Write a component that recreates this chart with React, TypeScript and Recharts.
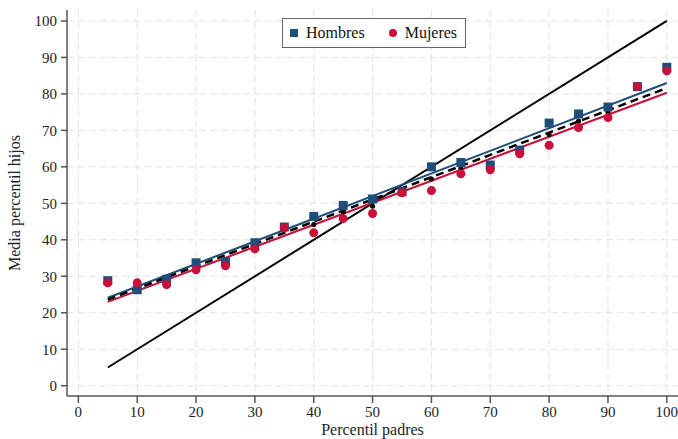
import React from 'react';
import { ComposedChart, XAxis, YAxis, CartesianGrid, Scatter, Line } from 'recharts';

const percentiles = [5, 10, 15, 20, 25, 30, 35, 40, 45, 50, 55, 60, 65, 70, 75, 80, 85, 90, 95, 100];
const hombres = [28.8, 26.3, 29.2, 33.7, 34.0, 39.2, 43.5, 46.4, 49.4, 51.2, 53.2, 60.0, 61.2, 60.5, 64.6, 72.0, 74.5, 76.4, 82.0, 87.3];
const mujeres = [28.2, 28.2, 27.7, 31.8, 32.9, 37.5, 43.3, 41.9, 45.8, 47.2, 52.9, 53.5, 58.1, 59.2, 63.6, 65.9, 70.8, 73.5, 82.0, 86.3];
const pooled = [28.5, 27.2, 28.5, 32.7, 33.4, 38.3, 43.4, 44.2, 47.6, 49.2, 53.0, 56.7, 59.6, 59.8, 64.1, 68.9, 72.6, 75.0, 82.0, 86.8];

const fitX = [5, 100];
const fitHombres = [24.1, 83.0];
const fitMujeres = [23.0, 80.3];
const fitPooled = [23.6, 81.6];
const diagonal = [5, 100];

const ticks = [0, 10, 20, 30, 40, 50, 60, 70, 80, 90, 100];

const BLUE = '#1f4e79';
const RED = '#c8103a';
const FONT = 'Liberation Serif';

const pts = (ys: number[]) => percentiles.map((x, i) => ({ x, y: ys[i] }));
const seg = (ys: number[]) => fitX.map((x, i) => ({ x, y: ys[i] }));

const Square = (p: any) => <rect x={p.cx - 4.5} y={p.cy - 4.5} width={9} height={9} fill={BLUE} />;
const Dot = (p: any) => <circle cx={p.cx} cy={p.cy} r={4.5} fill={RED} />;
const Small = (p: any) => <circle cx={p.cx} cy={p.cy} r={2.5} fill="#000" />;

const LegendBox = () => (
  <div style={{ position: 'absolute', left: 282, top: 18, border: '1px solid #666', background: '#fff', width: 184, height: 30, boxSizing: 'border-box', display: 'flex', alignItems: 'center', fontFamily: FONT, fontSize: 16, color: '#111' }}>
    <span style={{ display: 'inline-block', width: 8, height: 8, background: BLUE, marginLeft: 7, marginRight: 8 }} />
    <span>Hombres</span>
    <span style={{ display: 'inline-block', width: 8, height: 8, borderRadius: 4, background: RED, marginLeft: 24, marginRight: 8 }} />
    <span>Mujeres</span>
  </div>
);

export default function App() {
  return (
    <div style={{ position: 'absolute', left: 0, top: 0, width: 678, height: 439, background: '#fff' }}>
      <ComposedChart width={678} height={439} margin={{ top: 10, right: 0, left: 0, bottom: 0 }}>
        <CartesianGrid stroke="#e2e2e2" strokeDasharray="7 4" horizontalValues={ticks} verticalValues={ticks} />
        <XAxis type="number" dataKey="x" domain={[-1.93, 101.9]} ticks={ticks} interval={0} allowDataOverflow
          height={43} tickSize={7} tickMargin={3} stroke="#555" strokeWidth={1.5}
          tick={{ fontFamily: FONT, fontSize: 15, fill: '#222' }}
          label={{ value: 'Percentil padres', position: 'insideBottom', offset: 4, style: { fontFamily: FONT, fontSize: 16, fill: '#222' } }} />
        <YAxis type="number" dataKey="y" domain={[-2.82, 103.0]} ticks={ticks} interval={0} allowDataOverflow
          width={67} tickSize={6} tickMargin={4} stroke="#555" strokeWidth={1.5}
          tick={{ fontFamily: FONT, fontSize: 15, fill: '#222' }}
          label={{ value: 'Media percentil hijos', angle: -90, position: 'insideLeft', offset: 14, style: { fontFamily: FONT, fontSize: 16, fill: '#222', textAnchor: 'middle' } }} />
        <Line data={diagonal.map((v) => ({ x: v, y: v }))} dataKey="y" stroke="#000" strokeWidth={2} dot={false} isAnimationActive={false} />
        <Line data={seg(fitHombres)} dataKey="y" stroke={BLUE} strokeWidth={2} dot={false} isAnimationActive={false} />
        <Line data={seg(fitMujeres)} dataKey="y" stroke={RED} strokeWidth={2} dot={false} isAnimationActive={false} />
        <Line data={seg(fitPooled)} dataKey="y" stroke="#000" strokeWidth={2.5} strokeDasharray="8 5" dot={false} isAnimationActive={false} />
        <Scatter name="Total" data={pts(pooled)} dataKey="y" shape={Small} isAnimationActive={false} />
        <Scatter name="Hombres" data={pts(hombres)} dataKey="y" shape={Square} isAnimationActive={false} />
        <Scatter name="Mujeres" data={pts(mujeres)} dataKey="y" shape={Dot} isAnimationActive={false} />
      </ComposedChart>
      <LegendBox />
    </div>
  );
}
